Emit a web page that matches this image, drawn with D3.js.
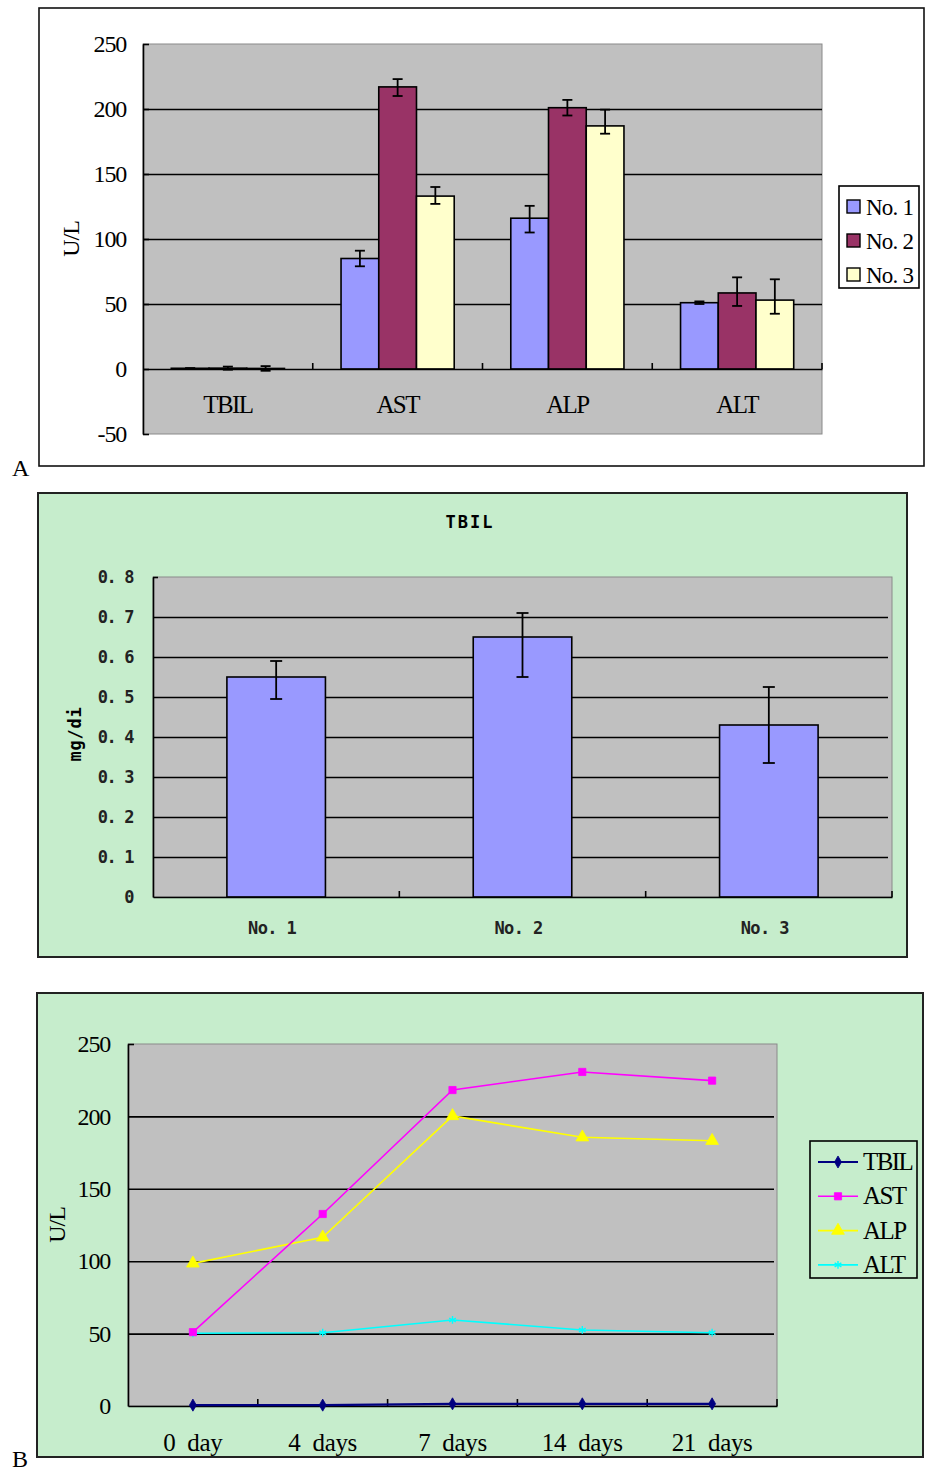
<!DOCTYPE html>
<html>
<head>
<meta charset="utf-8">
<script src="https://cdn.jsdelivr.net/npm/d3@7"></script>
<style>
  html, body { margin: 0; padding: 0; background: #ffffff; }
  svg { display: block; }
  text { white-space: pre; }
</style>
</head>
<body>
<script>
// ---------- Panel A: enzyme levels per group (U/L) ----------
const groupsA = ["TBIL", "AST", "ALP", "ALT"];
const seriesA = ["No. 1", "No. 2", "No. 3"];
const no1A = [0.55, 85, 116, 51];
const no2A = [0.65, 217, 201, 58.5];
const no3A = [0.43, 133, 187, 53];
const no1UpA = [0.05, 6, 9.5, 1];
const no1DownA = [0.05, 6, 11, 1];
const no2UpA = [1.2, 6, 6, 12];
const no2DownA = [1.2, 7, 6, 10];
const no3UpA = [1.8, 7, 12.5, 16];
const no3DownA = [1.8, 6, 6, 10.5];
const ticksA = [-50, 0, 50, 100, 150, 200, 250];

// ---------- Panel B: TBIL (mg/dl) ----------
const groupsB = ["No. 1", "No. 2", "No. 3"];
const tbilB = [0.55, 0.65, 0.43];
const tbilUpB = [0.04, 0.06, 0.095];
const tbilDownB = [0.055, 0.10, 0.095];
const ticksB = [0, 0.1, 0.2, 0.3, 0.4, 0.5, 0.6, 0.7, 0.8];
const tickLabelsB = ["0", "0. 1", "0. 2", "0. 3", "0. 4", "0. 5", "0. 6", "0. 7", "0. 8"];

// ---------- Panel C: time course (U/L) ----------
const daysC = ["0  day", "4  days", "7  days", "14  days", "21  days"];
const seriesC = ["TBIL", "AST", "ALP", "ALT"];
const tbilC = [0.6, 0.6, 1.5, 1.5, 1.5];
const astC = [51, 132.6, 218.2, 230.7, 224.7];
const alpC = [98.5, 116.5, 200.3, 185.6, 183.2];
const altC = [50.2, 50.6, 59.4, 52.5, 50.6];
const ticksC = [0, 50, 100, 150, 200, 250];

const barColors = ["#9999FF", "#993366", "#FFFFCC"];
const lineColors = ["#000080", "#FF00FF", "#FFFF00", "#00FFFF"];
const plotBg = "#C0C0C0";
const green = "#C6EDCC";
const serif = "'Liberation Serif', 'Times New Roman', serif";
const mono = "'DejaVu Sans Mono', 'Liberation Mono', monospace";

const svg = d3.select("body").append("svg").attr("width", 927).attr("height", 1471);

// ===================== Panel A =====================
(function () {
  const g = svg.append("g");
  g.append("rect").attr("x", 39).attr("y", 8).attr("width", 885).attr("height", 458)
    .attr("fill", "#fff").attr("stroke", "#111").attr("stroke-width", 1.6);
  g.append("text").attr("x", 12).attr("y", 476).text("A")
    .attr("font-family", serif).attr("font-size", 24).attr("fill", "#000");

  const x0 = 143, x1 = 822;
  const x = d3.scaleBand().domain(groupsA).range([x0, x1]);
  const y = d3.scaleLinear().domain([-50, 250]).range([434, 44]);
  const bw = x.bandwidth();
  const sub = d3.scaleBand().domain(seriesA).range([bw * 0.75 / 4.5, bw * (1 - 0.75 / 4.5)]);

  g.append("rect").attr("x", x0).attr("y", y(250)).attr("width", x1 - x0).attr("height", y(-50) - y(250))
    .attr("fill", plotBg).attr("stroke", "#8a8a8a").attr("stroke-width", 1);

  // gridlines
  const grid = g.append("g").attr("transform", `translate(${x0},0)`)
    .call(d3.axisLeft(y).tickValues([50, 100, 150, 200]).tickSize(-(x1 - x0)).tickFormat(""));
  grid.select(".domain").remove();
  grid.selectAll("line").attr("stroke", "#000").attr("stroke-width", 1.6);

  // value axis
  const ax = g.append("g").attr("transform", `translate(${x0},0)`)
    .call(d3.axisLeft(y).tickValues(ticksA).tickSizeInner(-6).tickSizeOuter(0).tickFormat(""));
  ax.selectAll("line, path").attr("stroke", "#000").attr("stroke-width", 1.6);

  const lab = g.append("g").attr("transform", `translate(${x0},0)`)
    .call(d3.axisLeft(y).tickValues(ticksA).tickSize(0).tickPadding(17).tickFormat(d => String(d)));
  lab.select(".domain").remove();
  lab.selectAll("text").attr("font-family", serif).attr("font-size", 24).attr("letter-spacing", -1.2).attr("fill", "#000");

  g.append("text").attr("transform", `translate(79,${y(100)}) rotate(-90)`)
    .attr("text-anchor", "middle").attr("font-family", serif).attr("font-size", 24).attr("letter-spacing", -1)
    .text("U/L");

  const vals = [no1A, no2A, no3A];
  const ups = [no1UpA, no2UpA, no3UpA];
  const downs = [no1DownA, no2DownA, no3DownA];

  // bars
  seriesA.forEach((s, i) => {
    g.append("g").selectAll("rect").data(groupsA).join("rect")
      .attr("x", d => x(d) + sub(s)).attr("width", sub.bandwidth())
      .attr("y", (d, j) => y(vals[i][j])).attr("height", (d, j) => y(0) - y(vals[i][j]))
      .attr("fill", barColors[i]).attr("stroke", "#000").attr("stroke-width", 1.6);
  });

  // category axis
  const cat = g.append("g").attr("transform", `translate(0,${y(0)})`)
    .call(d3.axisBottom(x).tickSize(0).tickFormat(""));
  cat.select(".domain").attr("stroke", "#000").attr("stroke-width", 1.6);
  g.append("g").selectAll("line").data(groupsA).join("line")
    .attr("x1", d => x(d) + bw).attr("x2", d => x(d) + bw)
    .attr("y1", y(0)).attr("y2", y(0) - 6).attr("stroke", "#000").attr("stroke-width", 1.6);

  // error bars
  seriesA.forEach((s, i) => {
    groupsA.forEach((c, j) => {
      const cx = x(c) + sub(s) + sub.bandwidth() / 2;
      const top = y(vals[i][j] + ups[i][j]), bot = y(vals[i][j] - downs[i][j]);
      const eg = g.append("g").attr("stroke", "#000").attr("stroke-width", 1.8);
      eg.append("line").attr("x1", cx).attr("x2", cx).attr("y1", top).attr("y2", bot);
      eg.append("line").attr("x1", cx - 5).attr("x2", cx + 5).attr("y1", top).attr("y2", top);
      eg.append("line").attr("x1", cx - 5).attr("x2", cx + 5).attr("y1", bot).attr("y2", bot);
    });
  });

  // category labels
  g.append("g").selectAll("text").data(groupsA).join("text")
    .attr("x", d => x(d) + bw / 2).attr("y", y(0) + 44)
    .attr("text-anchor", "middle").attr("font-family", serif).attr("font-size", 25).attr("letter-spacing", -1.6)
    .text(d => d);

  // legend
  const lg = g.append("g");
  lg.append("rect").attr("x", 839).attr("y", 186).attr("width", 80).attr("height", 102)
    .attr("fill", "#fff").attr("stroke", "#000").attr("stroke-width", 1.6);
  seriesA.forEach((s, i) => {
    const cy = 207 + i * 34;
    lg.append("rect").attr("x", 847).attr("y", cy - 7).attr("width", 13).attr("height", 13)
      .attr("fill", barColors[i]).attr("stroke", "#000").attr("stroke-width", 1.4);
    lg.append("text").attr("x", 866).attr("y", cy + 8).attr("font-family", serif).attr("font-size", 23)
      .attr("letter-spacing", -0.8).text(s);
  });
})();

// ===================== Panel B =====================
(function () {
  const g = svg.append("g");
  g.append("rect").attr("x", 38).attr("y", 493).attr("width", 869).attr("height", 464)
    .attr("fill", green).attr("stroke", "#222").attr("stroke-width", 2);

  g.append("text").attr("x", 470).attr("y", 528).attr("text-anchor", "middle")
    .attr("font-family", mono).attr("font-weight", "bold").attr("font-size", 17).attr("letter-spacing", 2)
    .text("TBIL");

  const x0 = 153, x1 = 892;
  const x = d3.scaleBand().domain(groupsB).range([x0, x1]);
  const y = d3.scaleLinear().domain([0, 0.8]).range([897, 577]);
  const bw = x.bandwidth();

  g.append("rect").attr("x", x0).attr("y", y(0.8)).attr("width", x1 - x0).attr("height", y(0) - y(0.8))
    .attr("fill", plotBg).attr("stroke", "#8a8a8a").attr("stroke-width", 1);

  const grid = g.append("g").attr("transform", `translate(${x0},0)`)
    .call(d3.axisLeft(y).tickValues(ticksB.slice(1, -1)).tickSize(-(x1 - x0 - 4)).tickFormat(""));
  grid.select(".domain").remove();
  grid.selectAll("line").attr("stroke", "#000").attr("stroke-width", 1.6);

  const ax = g.append("g").attr("transform", `translate(${x0},0)`)
    .call(d3.axisLeft(y).tickValues([0.8]).tickSizeInner(-5).tickSizeOuter(0).tickFormat(""));
  ax.selectAll("line, path").attr("stroke", "#000").attr("stroke-width", 1.6);

  const lab = g.append("g").attr("transform", `translate(${x0},0)`)
    .call(d3.axisLeft(y).tickValues(ticksB).tickSize(0).tickPadding(20).tickFormat((d, i) => tickLabelsB[i]));
  lab.select(".domain").remove();
  lab.selectAll("text").attr("font-family", mono).attr("font-weight", "bold").attr("font-size", 17)
    .attr("letter-spacing", -1.4).attr("fill", "#222");

  g.append("text").attr("transform", `translate(81,${y(0.4) - 3}) rotate(-90)`)
    .attr("text-anchor", "middle").attr("font-family", mono).attr("font-weight", "bold").attr("font-size", 17)
    .attr("letter-spacing", 0.8).text("mg/di");

  // bars
  g.append("g").selectAll("rect").data(groupsB).join("rect")
    .attr("x", d => x(d) + bw * 0.3).attr("width", bw * 0.4)
    .attr("y", (d, i) => y(tbilB[i])).attr("height", (d, i) => y(0) - y(tbilB[i]))
    .attr("fill", barColors[0]).attr("stroke", "#000").attr("stroke-width", 1.6);

  // category axis
  const cat = g.append("g").attr("transform", `translate(0,${y(0)})`)
    .call(d3.axisBottom(x).tickSize(0).tickFormat(""));
  cat.select(".domain").attr("stroke", "#000").attr("stroke-width", 1.6);
  g.append("g").selectAll("line").data(groupsB).join("line")
    .attr("x1", d => x(d) + bw).attr("x2", d => x(d) + bw)
    .attr("y1", y(0)).attr("y2", y(0) - 6).attr("stroke", "#000").attr("stroke-width", 1.6);

  // error bars
  groupsB.forEach((c, i) => {
    const cx = x(c) + bw / 2;
    const top = y(tbilB[i] + tbilUpB[i]), bot = y(tbilB[i] - tbilDownB[i]);
    const eg = g.append("g").attr("stroke", "#000").attr("stroke-width", 1.8);
    eg.append("line").attr("x1", cx).attr("x2", cx).attr("y1", top).attr("y2", bot);
    eg.append("line").attr("x1", cx - 6).attr("x2", cx + 6).attr("y1", top).attr("y2", top);
    eg.append("line").attr("x1", cx - 6).attr("x2", cx + 6).attr("y1", bot).attr("y2", bot);
  });

  g.append("g").selectAll("text").data(groupsB).join("text")
    .attr("x", d => x(d) + bw / 2 - 4).attr("y", y(0) + 37)
    .attr("text-anchor", "middle").attr("font-family", mono).attr("font-weight", "bold").attr("font-size", 17)
    .attr("letter-spacing", -0.6).attr("fill", "#222").text(d => d);
})();

// ===================== Panel C =====================
(function () {
  const g = svg.append("g");
  g.append("rect").attr("x", 37).attr("y", 993).attr("width", 886).attr("height", 464)
    .attr("fill", green).attr("stroke", "#222").attr("stroke-width", 2);
  g.append("text").attr("x", 12).attr("y", 1467).text("B")
    .attr("font-family", serif).attr("font-size", 24).attr("fill", "#000");

  const x0 = 128, x1 = 777;
  const x = d3.scaleBand().domain(daysC).range([x0, x1]);
  const y = d3.scaleLinear().domain([0, 250]).range([1406, 1044]);
  const bw = x.bandwidth();

  g.append("rect").attr("x", x0).attr("y", y(250)).attr("width", x1 - x0).attr("height", y(0) - y(250))
    .attr("fill", plotBg).attr("stroke", "#8a8a8a").attr("stroke-width", 1);

  const grid = g.append("g").attr("transform", `translate(${x0},0)`)
    .call(d3.axisLeft(y).tickValues([50, 100, 150, 200]).tickSize(-(x1 - x0 - 3)).tickFormat(""));
  grid.select(".domain").remove();
  grid.selectAll("line").attr("stroke", "#000").attr("stroke-width", 1.6);

  const ax = g.append("g").attr("transform", `translate(${x0},0)`)
    .call(d3.axisLeft(y).tickValues([250]).tickSizeInner(-6).tickSizeOuter(0).tickFormat(""));
  ax.selectAll("line, path").attr("stroke", "#000").attr("stroke-width", 1.6);

  const lab = g.append("g").attr("transform", `translate(${x0},0)`)
    .call(d3.axisLeft(y).tickValues(ticksC).tickSize(0).tickPadding(18).tickFormat(d => String(d)));
  lab.select(".domain").remove();
  lab.selectAll("text").attr("font-family", serif).attr("font-size", 24).attr("letter-spacing", -1.2).attr("fill", "#000");

  g.append("text").attr("transform", `translate(65,${y(125)}) rotate(-90)`)
    .attr("text-anchor", "middle").attr("font-family", serif).attr("font-size", 24).attr("letter-spacing", -1)
    .text("U/L");

  const cat = g.append("g").attr("transform", `translate(0,${y(0)})`)
    .call(d3.axisBottom(x).tickSize(0).tickFormat(""));
  cat.select(".domain").attr("stroke", "#000").attr("stroke-width", 1.6);
  g.append("g").selectAll("line").data(daysC).join("line")
    .attr("x1", d => x(d) + bw).attr("x2", d => x(d) + bw)
    .attr("y1", y(0)).attr("y2", y(0) - 7).attr("stroke", "#000").attr("stroke-width", 1.6);

  g.append("g").selectAll("text").data(daysC).join("text")
    .attr("x", d => x(d) + bw / 2).attr("y", y(0) + 45)
    .attr("text-anchor", "middle").attr("font-family", serif).attr("font-size", 25).attr("letter-spacing", -0.3)
    .text(d => d);

  const data = [tbilC, astC, alpC, altC];
  const symbols = [d3.symbolDiamond, d3.symbolSquare, d3.symbolTriangle, d3.symbolAsterisk];
  const symSizes = [42, 52, 70, 42];
  const line = d3.line().x((d, i) => x(daysC[i]) + bw / 2).y(d => y(d));

  function drawMarker(sel, i, cx, cy) {
    const p = sel.append("path").attr("d", d3.symbol(symbols[i], symSizes[i])())
      .attr("transform", `translate(${cx},${cy})`);
    if (i === 3) p.attr("fill", "none").attr("stroke", lineColors[i]).attr("stroke-width", 1.4);
    else p.attr("fill", lineColors[i]).attr("stroke", lineColors[i]).attr("stroke-width", 0.8);
  }

  // draw in reverse so TBIL sits on top near the axis
  [3, 2, 1, 0].forEach(i => {
    g.append("path").datum(data[i]).attr("d", line).attr("fill", "none")
      .attr("stroke", lineColors[i]).attr("stroke-width", i === 0 ? 2.2 : 1.6);
    const mg = g.append("g");
    data[i].forEach((v, j) => drawMarker(mg, i, x(daysC[j]) + bw / 2, y(v)));
  });

  // legend
  const lg = g.append("g");
  lg.append("rect").attr("x", 810).attr("y", 1141).attr("width", 107).attr("height", 137)
    .attr("fill", green).attr("stroke", "#000").attr("stroke-width", 1.6);
  seriesC.forEach((s, i) => {
    const cy = 1162 + i * 34.3;
    lg.append("line").attr("x1", 818).attr("x2", 858).attr("y1", cy).attr("y2", cy)
      .attr("stroke", lineColors[i]).attr("stroke-width", i === 0 ? 2.2 : 1.6);
    drawMarker(lg, i, 838, cy);
    lg.append("text").attr("x", 863).attr("y", cy + 8).attr("font-family", serif).attr("font-size", 25)
      .attr("letter-spacing", -1.6).text(s);
  });
})();
</script>
</body>
</html>
